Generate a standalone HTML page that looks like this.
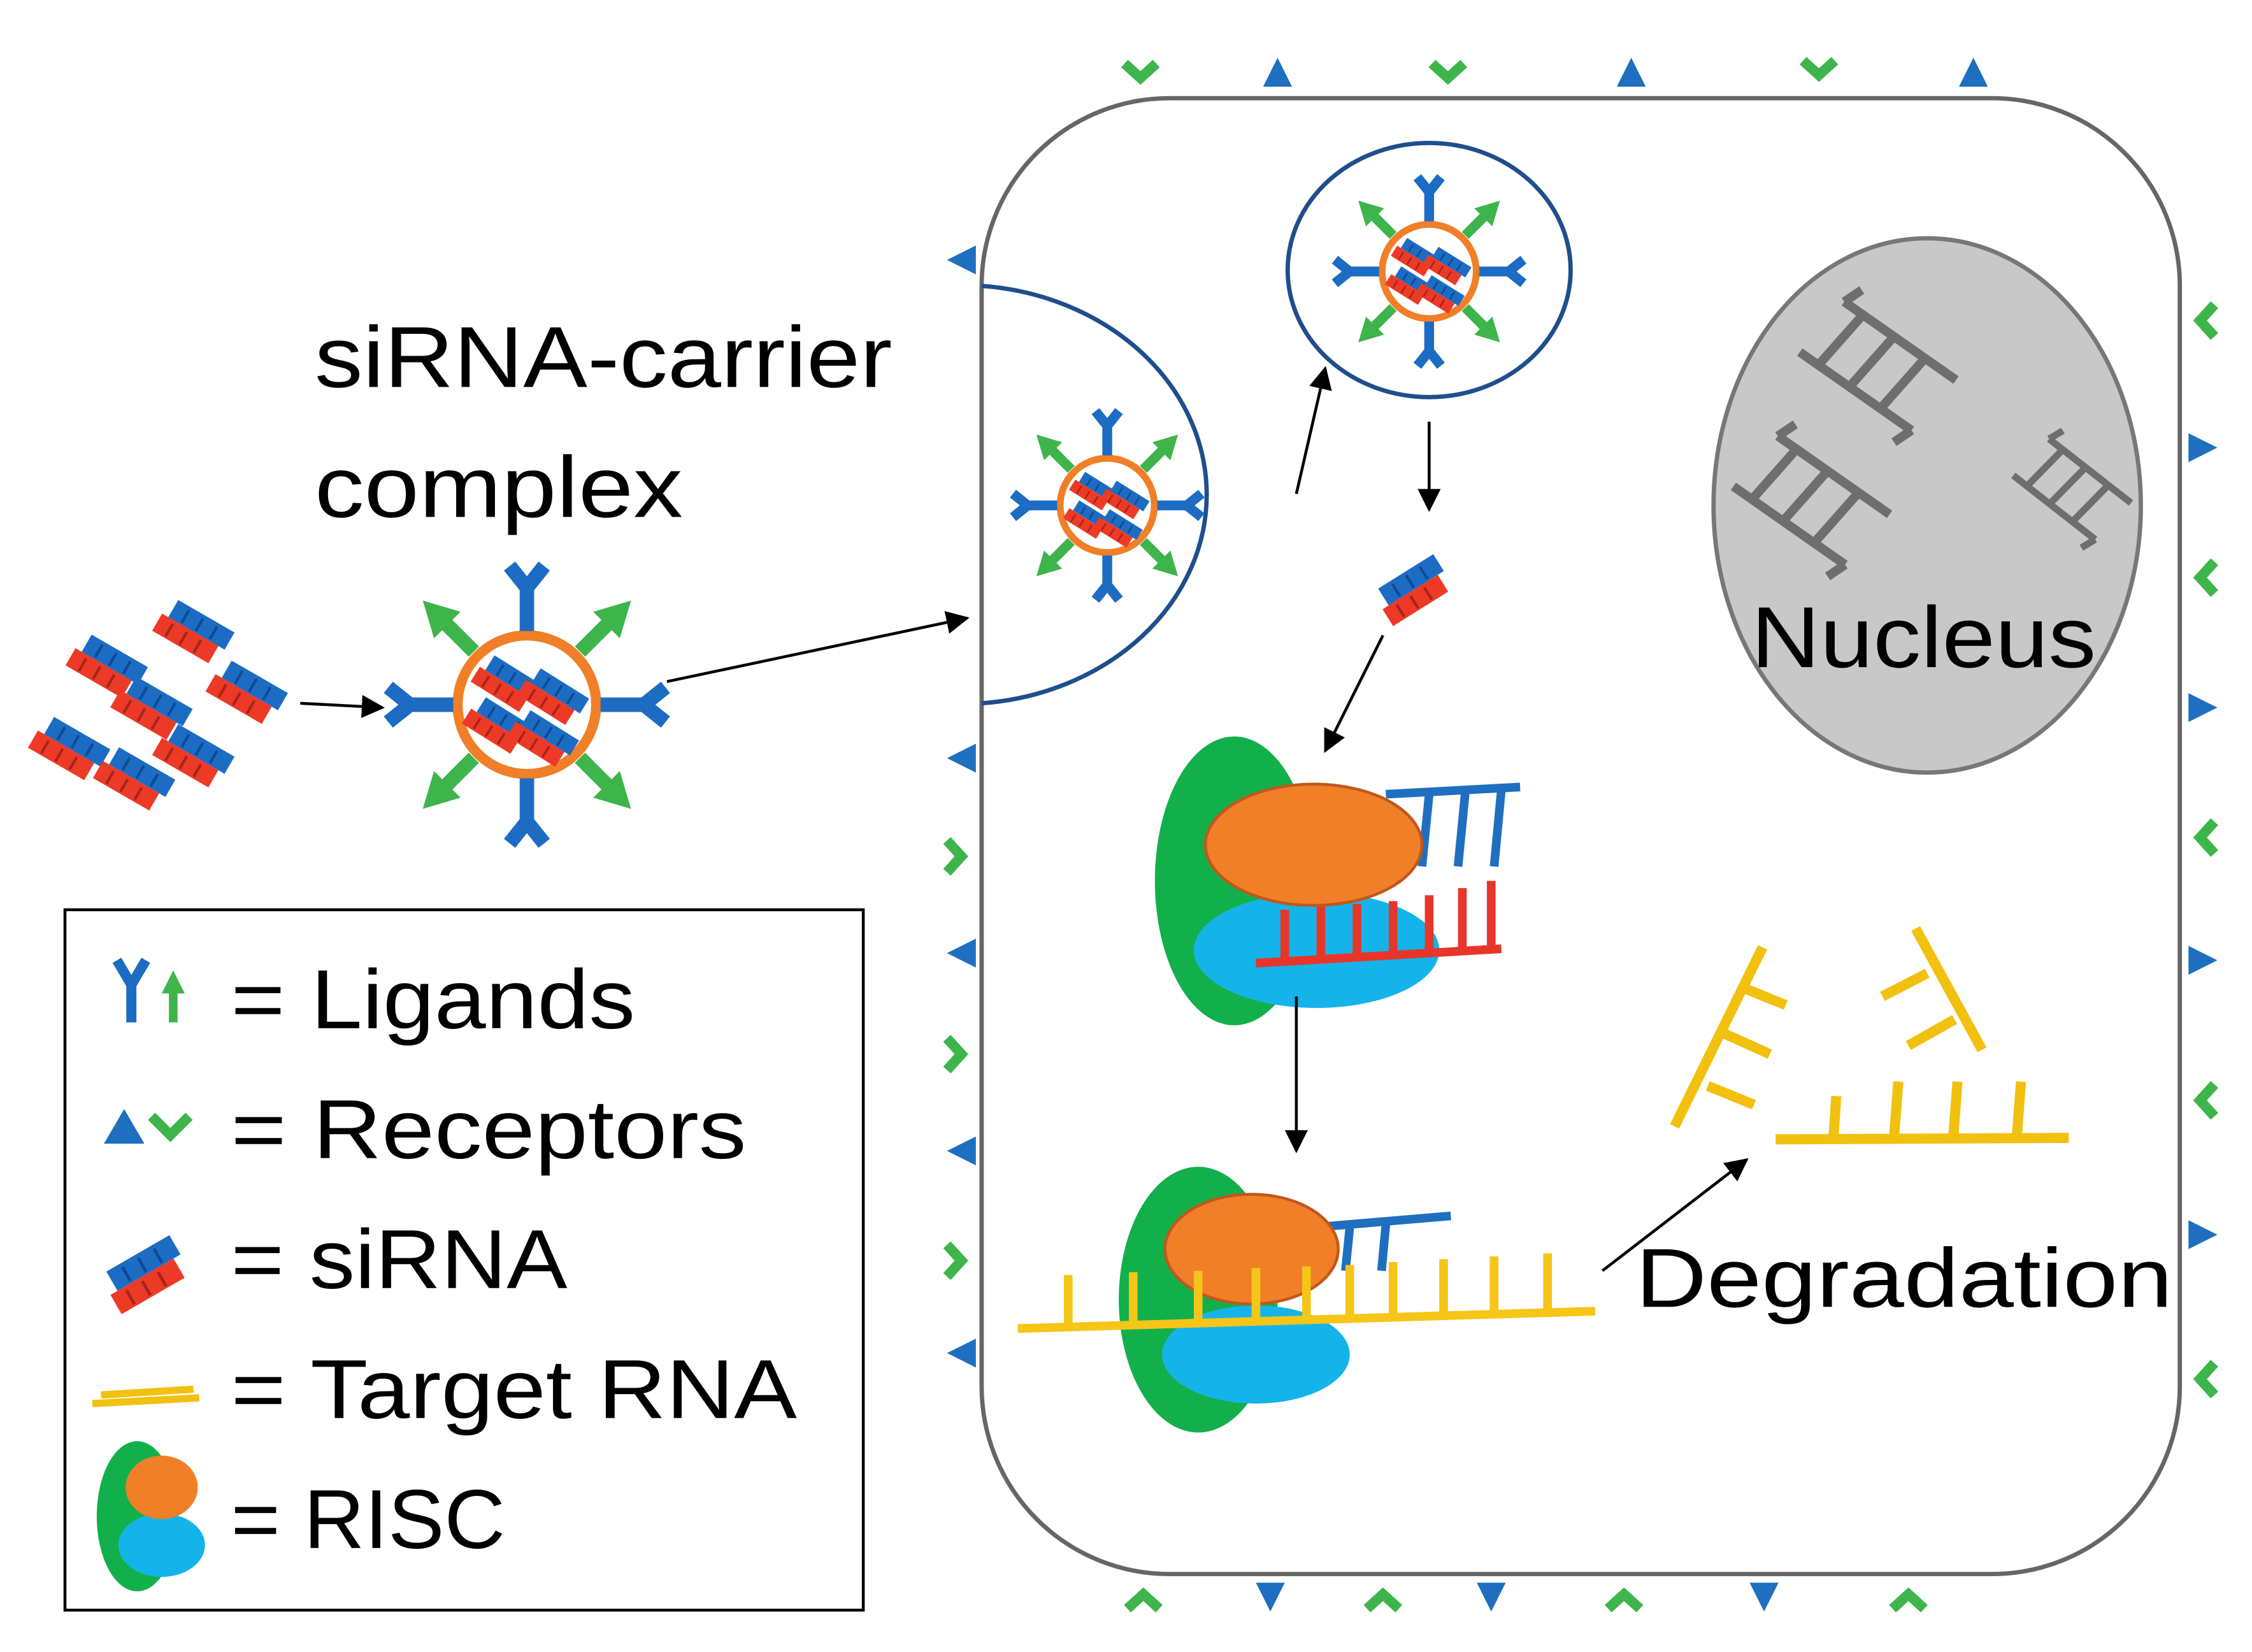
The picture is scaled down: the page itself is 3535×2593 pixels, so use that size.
<!DOCTYPE html>
<html><head><meta charset="utf-8"><style>
html,body{margin:0;padding:0;background:#fff}
svg{display:block}
text{font-family:"Liberation Sans",sans-serif;fill:#000}
</style></head><body>
<svg width="3535" height="2593" viewBox="0 0 1560 1144" preserveAspectRatio="none" xmlns="http://www.w3.org/2000/svg">
<defs>
<marker id="ah" viewBox="0 0 10 10" refX="9" refY="5" markerWidth="8" markerHeight="8" orient="auto"><path d="M0,0 L10,5 L0,10 z" fill="#000"/></marker>
<g id="blk">
<rect x="-17" y="-11" width="36" height="11" fill="#1c6cc4"/>
<rect x="-21" y="0" width="36" height="11" fill="#ec3a27"/>
<g stroke="#0d4a94" stroke-width="1.5"><line x1="-9" y1="-9" x2="-9" y2="-1"/><line x1="0" y1="-9" x2="0" y2="-1"/><line x1="9" y1="-9" x2="9" y2="-1"/></g>
<g stroke="#a8231a" stroke-width="1.5"><line x1="-13" y1="2" x2="-13" y2="10"/><line x1="-4" y1="2" x2="-4" y2="10"/><line x1="5" y1="2" x2="5" y2="10"/></g>
</g>
<g id="yl"><path d="M0,0 L0,-30 M-12,-45 L0,-30 L12,-45" fill="none" stroke="#1c6cc4" stroke-width="10"/></g>
<g id="ga"><line x1="0" y1="0" x2="0" y2="-30" stroke="#3db54a" stroke-width="10"/><path d="M-13,-26 L0,-50 L13,-26 z" fill="#3db54a"/></g>
<g id="carrier">
<circle r="48" fill="#fff" stroke="#f07f28" stroke-width="7"/>
<use href="#blk" transform="translate(-13,-14) rotate(32) scale(1.1)"/>
<use href="#blk" transform="translate(19,-5) rotate(32) scale(1.1)"/>
<use href="#blk" transform="translate(-19,15) rotate(32) scale(1.1)"/>
<use href="#blk" transform="translate(12,24) rotate(32) scale(1.1)"/>
<use href="#yl" transform="translate(0,-51)"/>
<use href="#yl" transform="rotate(90) translate(0,-51)"/>
<use href="#yl" transform="rotate(180) translate(0,-51)"/>
<use href="#yl" transform="rotate(270) translate(0,-51)"/>
<use href="#ga" transform="rotate(45) translate(0,-52)"/>
<use href="#ga" transform="rotate(135) translate(0,-52)"/>
<use href="#ga" transform="rotate(225) translate(0,-52)"/>
<use href="#ga" transform="rotate(315) translate(0,-52)"/>
</g>
<path id="tri" d="M-10,8 L0,-12 L10,8 z" fill="#1f6fc0"/>
<path id="chev" d="M-11,-6 L0,4 L11,-6" fill="none" stroke="#3db54a" stroke-width="7"/>
<g id="lad" fill="none" stroke="#6e6e6e" stroke-width="6">
<path d="M-45,-22 L45,-22 M-50,22 L40,22 M-30,-22 L-35,22 M-5,-22 L-10,22 M20,-22 L15,22 M-40,-35 L-45,-22 M40,22 L35,35"/>
</g>
</defs>

<rect x="680" y="68" width="830" height="1022" rx="130" fill="#fff" stroke="#666" stroke-width="3"/>
<use href="#chev" transform="translate(790,50)"/><use href="#tri" transform="translate(885,52)"/>
<use href="#chev" transform="translate(1003,50)"/><use href="#tri" transform="translate(1130,52)"/>
<use href="#chev" transform="translate(1260,48)"/><use href="#tri" transform="translate(1367,52)"/>
<use href="#chev" transform="translate(792,1108) rotate(180)"/><use href="#tri" transform="translate(880,1104) rotate(180)"/>
<use href="#chev" transform="translate(958,1108) rotate(180)"/><use href="#tri" transform="translate(1033,1104) rotate(180)"/>
<use href="#chev" transform="translate(1125,1108) rotate(180)"/><use href="#tri" transform="translate(1222,1104) rotate(180)"/>
<use href="#chev" transform="translate(1322,1108) rotate(180)"/>
<use href="#tri" transform="translate(668,180) rotate(-90)"/>
<use href="#tri" transform="translate(668,525) rotate(-90)"/>
<use href="#chev" transform="translate(662,593) rotate(-90)"/>
<use href="#tri" transform="translate(668,660) rotate(-90)"/>
<use href="#chev" transform="translate(662,730) rotate(-90)"/>
<use href="#tri" transform="translate(668,797) rotate(-90)"/>
<use href="#chev" transform="translate(662,873) rotate(-90)"/>
<use href="#tri" transform="translate(668,937) rotate(-90)"/>
<use href="#chev" transform="translate(1528,222) rotate(90)"/>
<use href="#tri" transform="translate(1524,310) rotate(90)"/>
<use href="#chev" transform="translate(1528,400) rotate(90)"/>
<use href="#tri" transform="translate(1524,490) rotate(90)"/>
<use href="#chev" transform="translate(1528,580) rotate(90)"/>
<use href="#tri" transform="translate(1524,665) rotate(90)"/>
<use href="#chev" transform="translate(1528,762) rotate(90)"/>
<use href="#tri" transform="translate(1524,855) rotate(90)"/>
<use href="#chev" transform="translate(1528,955) rotate(90)"/>

<path d="M680,198 A170,145 0 0 1 680,487" fill="none" stroke="#1f4e8c" stroke-width="3"/>
<use href="#carrier" transform="translate(767,350) scale(0.68)"/>
<ellipse cx="990" cy="187" rx="98" ry="88" fill="#fff" stroke="#1f4e8c" stroke-width="3"/>
<use href="#carrier" transform="translate(990,188) scale(0.68)"/>

<ellipse cx="1335" cy="350" rx="148" ry="185" fill="#c8c8c8" stroke="#777" stroke-width="3"/>
<use href="#lad" transform="translate(1303,255) rotate(35) scale(1.05)"/>
<use href="#lad" transform="translate(1257,348) rotate(35) scale(1.05)"/>
<use href="#lad" transform="translate(1437,340) rotate(38) scale(0.8)"/>
<text x="1213" y="462" font-size="60" textLength="239" lengthAdjust="spacingAndGlyphs">Nucleus</text>

<use href="#blk" transform="translate(980,408) rotate(-32) scale(1.25)"/>

<ellipse cx="855" cy="610" rx="55" ry="100" fill="#12b04a"/>
<ellipse cx="912" cy="658" rx="85" ry="40" fill="#14b4ea"/>
<g stroke="#1f6fc0" stroke-width="6" fill="none"><path d="M960,550 L1053,545 M990,550 L985,600 M1015,549 L1010,600 M1040,547 L1035,600"/></g>
<ellipse cx="910" cy="585" rx="75" ry="42" fill="#f07f28" stroke="#c2571a" stroke-width="2"/>
<g stroke="#e8352a" stroke-width="6" fill="none"><path d="M870,667 L1040,657 M890,667 L890,630 M915,665 L915,628 M940,664 L940,626 M965,662 L965,624 M990,661 L990,620 M1013,659 L1013,615 M1033,658 L1033,610"/></g>

<ellipse cx="830" cy="900" rx="55" ry="92" fill="#12b04a"/>
<ellipse cx="870" cy="938" rx="65" ry="34" fill="#14b4ea"/>
<g stroke="#1f6fc0" stroke-width="6" fill="none"><path d="M910,850 L1005,842 M935,850 L932,880 M960,848 L957,880"/></g>
<ellipse cx="867" cy="865" rx="60" ry="38" fill="#f07f28" stroke="#c2571a" stroke-width="2"/>
<g stroke="#f5c518" stroke-width="6" fill="none"><path d="M705,920 L1105,908 M740,918 L740,883 M785,917 L785,881 M830,915 L830,880 M870,914 L870,878 M905,913 L905,877 M935,912 L935,876 M965,911 L965,874 M1000,910 L1000,872 M1035,909 L1035,870 M1072,908 L1072,868"/></g>

<g stroke="#f2c00f" stroke-width="7" fill="none">
<path d="M1221,656 L1160,780 M1205,683 L1237,696 M1195,716 L1226,730 M1183,752 L1215,765"/>
<path d="M1327,643 L1373,727 M1335,674 L1304,690 M1354,706 L1322,724"/>
<path d="M1230,789 L1433,788 M1270,789 L1272,759 M1312,788 L1315,749 M1353,788 L1356,749 M1397,788 L1400,749"/>
</g>
<text x="1133" y="905" font-size="58" textLength="372" lengthAdjust="spacingAndGlyphs">Degradation</text>

<g stroke="#000" stroke-width="2" marker-end="url(#ah)">
<line x1="208" y1="487" x2="265" y2="490"/>
<line x1="462" y1="472" x2="670" y2="428"/>
<line x1="898" y1="342" x2="918" y2="255"/>
<line x1="990" y1="292" x2="990" y2="353"/>
<line x1="958" y1="440" x2="918" y2="520"/>
<line x1="898" y1="690" x2="898" y2="797"/>
<line x1="1110" y1="880" x2="1210" y2="803"/>
</g>

<use href="#blk" transform="translate(135,438) rotate(30) scale(1.25)"/>
<use href="#blk" transform="translate(75,462) rotate(30) scale(1.25)"/>
<use href="#blk" transform="translate(172,480) rotate(30) scale(1.25)"/>
<use href="#blk" transform="translate(106,491) rotate(30) scale(1.25)"/>
<use href="#blk" transform="translate(49,519) rotate(30) scale(1.25)"/>
<use href="#blk" transform="translate(135,524) rotate(30) scale(1.25)"/>
<use href="#blk" transform="translate(94,540) rotate(30) scale(1.25)"/>

<use href="#carrier" transform="translate(365,488)"/>
<text x="218" y="268" font-size="60" textLength="400" lengthAdjust="spacingAndGlyphs">siRNA-carrier</text>
<text x="218" y="358" font-size="60" textLength="255" lengthAdjust="spacingAndGlyphs">complex</text>

<rect x="45" y="630" width="553" height="485" fill="#fff" stroke="#000" stroke-width="2"/>
<path d="M91,708 L91,682 M81,665 L91,682 L101,665" fill="none" stroke="#1c6cc4" stroke-width="7"/>
<g transform="translate(120,708)"><line x1="0" y1="0" x2="0" y2="-24" stroke="#3db54a" stroke-width="6"/><path d="M-8,-20 L0,-36 L8,-20 z" fill="#3db54a"/></g>
<path d="M72,792 L86,768 L100,792 z" fill="#1f6fc0"/>
<path d="M105,773 L118,786 L131,773" fill="none" stroke="#3db54a" stroke-width="7"/>
<use href="#blk" transform="translate(102,882) rotate(-30) scale(1.4)"/>
<g stroke="#f2c00f" stroke-width="5"><path d="M64,972 L138,968 M70,966 L134,962"/></g>
<ellipse cx="95" cy="1050" rx="28" ry="52" fill="#12b04a"/>
<ellipse cx="112" cy="1070" rx="30" ry="22" fill="#14b4ea"/>
<ellipse cx="112" cy="1030" rx="25" ry="22" fill="#f07f28"/>
<g font-size="58">
<text x="160" y="712" textLength="280" lengthAdjust="spacingAndGlyphs">= Ligands</text>
<text x="160" y="802" textLength="357" lengthAdjust="spacingAndGlyphs">= Receptors</text>
<text x="160" y="892" textLength="233" lengthAdjust="spacingAndGlyphs">= siRNA</text>
<text x="160" y="982" textLength="392" lengthAdjust="spacingAndGlyphs">= Target RNA</text>
<text x="160" y="1072" textLength="190" lengthAdjust="spacingAndGlyphs">= RISC</text>
</g>
</svg>
</body></html>
